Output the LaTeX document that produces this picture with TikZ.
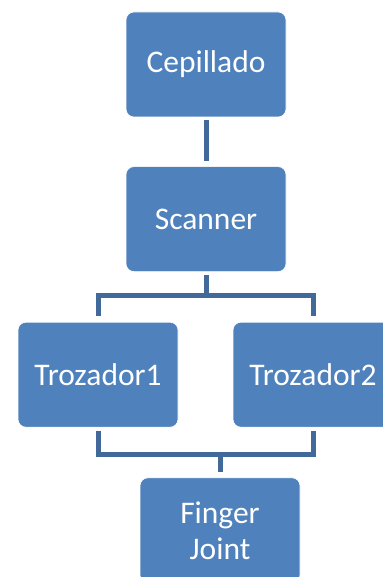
\documentclass[tikz,border=0pt]{standalone}
\usepackage{fontspec}
\setmainfont{Carlito}
\usetikzlibrary{positioning}

\definecolor{boxblue}{HTML}{4F81BD}
\definecolor{linkblue}{HTML}{41699A}

\begin{document}
\begin{tikzpicture}[x=1pt,y=-1pt,node distance=49pt,
      stage/.style={rectangle,rounded corners=8pt,fill=boxblue,draw=white,
      line width=0.6pt,text=white,minimum width=160pt,minimum height=105pt,
      font=\fontsize{31.5}{36}\selectfont,align=center,inner sep=2pt},
      link/.style={draw=linkblue,line width=5pt}]

      \useasboundingbox (0,0) rectangle (382,577);

      %% the line stages
      \node[stage] (cep) at (206,64.5) {Cepillado};
      \node[stage] (scan) [below=of cep] {Scanner};
      \node[stage] (t1) [below=50pt of scan,xshift=-108pt] {Trozador1};
      \node[stage] (t2) [below=50pt of scan,xshift=107pt] {Trozador2};
      \node[stage] (fj) [below=50pt of t1,xshift=122pt] {Finger\\Joint};

      %% connectors between the stages
      \draw[link,shorten <=3pt,shorten >=5pt] (cep) -- (scan);
      \draw[link,shorten <=3pt,shorten >=6pt] (scan.south) -- ++(0,24)
            coordinate (fork) -| (t1.north);
      \draw[link,shorten >=6pt] (fork) -| (t2.north);
      \draw[link,shorten <=3pt,shorten >=3pt] (t1.south) -- ++(0,27)
            coordinate (join) -- (join -| t2) -- (t2.south);
      \draw[link,shorten >=6pt] (join -| fj) -- (fj.north);
\end{tikzpicture}
\end{document}
